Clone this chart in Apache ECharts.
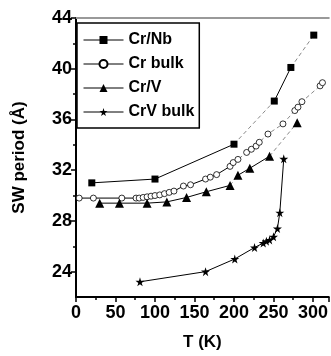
<!DOCTYPE html>
<html>
<head>
<meta charset="utf-8">
<script src="https://cdn.jsdelivr.net/npm/echarts@6/dist/echarts.min.js"></script>
<style>html,body{margin:0;padding:0;background:#fff;}#c{width:331px;height:356px;}</style>
</head>
<body>
<div id="c"></div>
<script>
// ---- data ----
var crNbT = [20, 100, 200, 251, 272, 301];
var crNbV = [31.0, 31.3, 34.05, 37.45, 40.1, 42.65];
var crNbSeg = ['s', 's', 'd', 's', 'd'];

var crBulkT = [4, 22, 58, 76, 80, 85, 90, 95, 100, 106, 112, 118, 124, 136, 145, 164, 170, 178, 195, 199, 205, 216, 222, 228, 232, 243, 262, 277, 281, 286, 309, 312];
var crBulkV = [29.8, 29.8, 29.8, 29.8, 29.8, 29.85, 29.9, 29.95, 30.0, 30.05, 30.15, 30.25, 30.35, 30.75, 30.85, 31.3, 31.45, 31.65, 32.3, 32.6, 32.85, 33.4, 33.65, 33.9, 34.2, 34.85, 35.65, 36.7, 36.97, 37.4, 38.65, 38.9];
var crBulkSeg = ['s','s','s','s','s','s','s','s','s','s','s','s','s','s','s','s','s','s','s','d','d','d','d','d','d','d','d','d','d','d','d'];

var crVT = [30, 55, 90, 115, 140, 165, 195, 205, 220, 245, 280];
var crVV = [29.4, 29.4, 29.4, 29.5, 29.85, 30.3, 30.8, 31.6, 32.15, 33.1, 35.75];
var crVSeg = ['s','s','s','s','s','s','d','s','s','d'];

var crVBulkT = [81, 164, 201, 226, 237, 241, 245, 250, 255, 258, 263];
var crVBulkV = [23.2, 24.0, 25.0, 25.9, 26.25, 26.4, 26.5, 26.75, 27.4, 28.65, 32.9];
var crVBulkSeg = ['s','s','s','s','s','s','s','s','s','s'];

var names = ['Cr/Nb', 'Cr bulk', 'Cr/V', 'CrV bulk'];
var xTicks = [0, 50, 100, 150, 200, 250, 300];
var yTicks = [24, 28, 32, 36, 40, 44];
var yMinorTicks = [26, 30, 34, 38, 42];

// ---- build ----
var FONT = '"Liberation Sans", Arial, sans-serif';
var starPath = 'path://M50,0 L61,35 L98,35 L68,57 L79,91 L50,70 L21,91 L32,57 L2,35 L39,35 Z';
var sets = [
  {T: crNbT, V: crNbV, seg: crNbSeg, symbol: 'rect', size: 7, fill: '#000'},
  {T: crBulkT, V: crBulkV, seg: crBulkSeg, symbol: 'circle', size: 6, fill: '#fff'},
  {T: crVT, V: crVV, seg: crVSeg, symbol: 'triangle', size: 9, fill: '#000'},
  {T: crVBulkT, V: crVBulkV, seg: crVBulkSeg, symbol: starPath, size: 9, fill: '#000'}
];

function pts(T, V) { return T.map(function (t, i) { return [t, V[i]]; }); }

var series = [];
sets.forEach(function (s, k) {
  var p = pts(s.T, s.V);
  var i = 0;
  while (i < s.seg.length) {
    var type = s.seg[i];
    var j = i;
    while (j < s.seg.length && s.seg[j] === type) j++;
    series.push({
      type: 'line', silent: true, symbol: 'none', z: 2,
      data: p.slice(i, j + 1),
      lineStyle: type === 's'
        ? {color: '#000', width: 1, type: 'solid'}
        : {color: '#8a8a8a', width: 1, type: [4, 3]}
    });
    i = j;
  }
  series.push({
    name: names[k], type: 'line', z: 3,
    data: p, symbol: s.symbol, symbolSize: s.size, showSymbol: true,
    lineStyle: {opacity: 0},
    itemStyle: {color: s.fill, borderColor: '#000', borderWidth: s.fill === '#fff' ? 0.8 : 0}
  });
});

var chart = echarts.init(document.getElementById('c'), null, {renderer: 'canvas'});
chart.setOption({
  animation: false,
  backgroundColor: '#fff',
  grid: {left: 76, right: 0, top: 18, bottom: 59, containLabel: false},
  legend: {
    data: names,
    left: 77, top: 23, orient: 'vertical',
    padding: [9, 5, 8, 6],
    itemWidth: 40, itemHeight: 10, itemGap: 8,
    borderColor: '#000', borderWidth: 1.5, backgroundColor: '#fff',
    lineStyle: {color: '#000', width: 1, opacity: 1, type: 'solid'},
    textStyle: {fontFamily: FONT, fontWeight: 'bold', fontSize: 16, color: '#000'}
  },
  xAxis: [{
    type: 'value', min: 0, max: 320, interval: 50,
    name: 'T (K)', nameLocation: 'middle', nameGap: 37,
    nameTextStyle: {fontFamily: FONT, fontWeight: 'bold', fontSize: 17, color: '#000'},
    axisLine: {show: true, onZero: false, lineStyle: {color: '#000', width: 2}},
    axisTick: {show: true, length: 5, lineStyle: {color: '#000', width: 1.5}},
    minorTick: {show: true, splitNumber: 2, length: 3, lineStyle: {color: '#000', width: 1.5}},
    splitLine: {show: false},
    axisLabel: {margin: 7, fontFamily: FONT, fontWeight: 'bold', fontSize: 18, color: '#000',
      customValues: xTicks}
  }, {
    type: 'value', position: 'top', min: 0, max: 320,
    axisLine: {show: true, lineStyle: {color: '#999', width: 2}},
    axisTick: {show: false}, axisLabel: {show: false}, splitLine: {show: false}
  }],
  yAxis: [{
    type: 'value', min: 22, max: 44, interval: 2,
    name: 'SW period (Å)', nameLocation: 'middle', nameGap: 48, nameRotate: 90,
    nameTextStyle: {fontFamily: FONT, fontWeight: 'bold', fontSize: 17, color: '#000'},
    axisLine: {show: true, onZero: false, lineStyle: {color: '#000', width: 2}},
    axisTick: {show: true, length: 5, lineStyle: {color: '#000', width: 1.5}, customValues: yTicks},
    splitLine: {show: false},
    axisLabel: {margin: 4, fontFamily: FONT, fontWeight: 'bold', fontSize: 18, color: '#000',
      customValues: yTicks}
  }, {
    type: 'value', min: 22, max: 44, position: 'left',
    axisLine: {show: false},
    axisTick: {show: true, length: 3, lineStyle: {color: '#000', width: 1.5}, customValues: yMinorTicks},
    axisLabel: {show: false}, splitLine: {show: false}
  }],
  series: series
});
</script>
</body>
</html>
